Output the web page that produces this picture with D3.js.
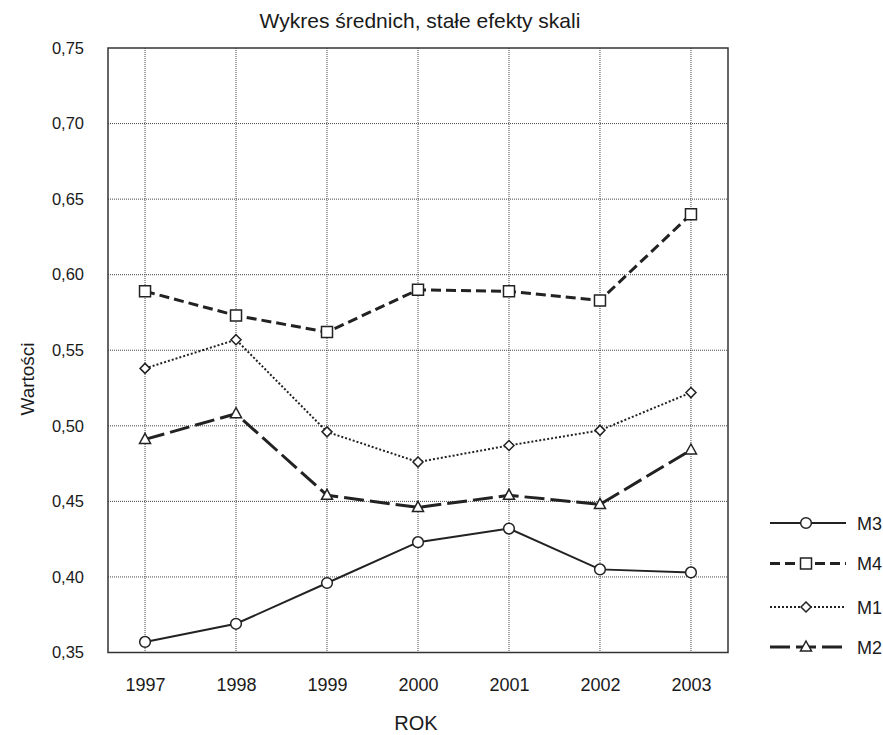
<!DOCTYPE html>
<html><head><meta charset="utf-8">
<script src="https://cdn.jsdelivr.net/npm/d3@7"></script>
<style>body{margin:0;background:#fff}text{font-family:"Liberation Sans",Arial,sans-serif;fill:#1a1a1a}</style>
</head><body>
<script>
const years = ["1997","1998","1999","2000","2001","2002","2003"];
const M3 = [0.357, 0.369, 0.396, 0.423, 0.432, 0.405, 0.403];
const M4 = [0.589, 0.573, 0.562, 0.590, 0.589, 0.583, 0.640];
const M1 = [0.538, 0.557, 0.496, 0.476, 0.487, 0.497, 0.522];
const M2 = [0.491, 0.508, 0.454, 0.446, 0.454, 0.448, 0.484];
const yTicks = [0.35,0.40,0.45,0.50,0.55,0.60,0.65,0.70,0.75];
const seriesNames = ["M3","M4","M1","M2"];

const W=883,H=735;
const svg=d3.select("body").append("svg").attr("width",W).attr("height",H);
const L=108,R=728,T=48,B=652.5;
const x=d3.scalePoint().domain(years).range([L,R]).padding(0.407);
const y=d3.scaleLinear().domain([0.35,0.75]).range([B,T]);

// grid
const grid=svg.append("g").attr("stroke","#444").attr("stroke-width",1).attr("stroke-dasharray","1,1");
grid.selectAll(".gx").data(years).join("line").attr("x1",d=>x(d)).attr("x2",d=>x(d)).attr("y1",T).attr("y2",B);
grid.selectAll(".gy").data(yTicks.slice(1,-1)).join("line").attr("x1",L).attr("x2",R).attr("y1",d=>y(d)).attr("y2",d=>y(d));

// frame
svg.append("rect").attr("x",L).attr("y",T).attr("width",R-L).attr("height",B-T).attr("fill","none").attr("stroke","#333").attr("stroke-width",1.5);

// axes labels
const yAxis=d3.axisLeft(y).tickValues(yTicks).tickSize(0).tickPadding(24).tickFormat(d=>d3.format(".2f")(d).replace(".",","));
const ga=svg.append("g").attr("transform",`translate(${L},0)`).call(yAxis);
ga.select(".domain").remove();
ga.selectAll("text").style("font-size","16.5px").attr("fill","#1a1a1a");
const xAxis=d3.axisBottom(x).tickSize(0).tickPadding(26);
const gx=svg.append("g").attr("transform",`translate(0,${B})`).call(xAxis);
gx.select(".domain").remove();
gx.selectAll("text").style("font-size","18px").attr("fill","#1a1a1a");

svg.append("text").attr("x",420).attr("y",28).attr("text-anchor","middle").style("font-size","21px").text("Wykres średnich, stałe efekty skali");
svg.append("text").attr("x",416).attr("y",730).attr("text-anchor","middle").style("font-size","20px").text("ROK");
svg.append("text").attr("transform","translate(34,379) rotate(-90)").attr("text-anchor","middle").style("font-size","19px").text("Wartości");

const styles={
  M3:{data:M3,dash:null,w:2,marker:"circle"},
  M4:{data:M4,dash:"10,5",w:3,marker:"square"},
  M1:{data:M1,dash:"2,2",w:2,marker:"diamond"},
  M2:{data:M2,dash:"20,6",w:3,marker:"triangle"}
};
const markerPath={
  circle:d3.symbol().type(d3.symbolCircle).size(90)(),
  square:"M-5.5,-5.5H5.5V5.5H-5.5Z",
  diamond:"M0,-5L5,0L0,5L-5,0Z",
  triangle:"M0,-6L5.5,4H-5.5Z"
};
const line=d3.line().x((d,i)=>x(years[i])).y(d=>y(d));
function drawMarker(g,type,cx,cy){
  g.append("path").attr("d",markerPath[type])
   .attr("transform",`translate(${cx},${cy})`).attr("fill","#fff").attr("stroke","#222").attr("stroke-width",1.5);
}
["M2","M1","M4","M3"].forEach(n=>{
  const s=styles[n];
  svg.append("path").datum(s.data).attr("d",line).attr("fill","none").attr("stroke","#222")
    .attr("stroke-width",s.w).attr("stroke-dasharray",s.dash);
  const g=svg.append("g");
  s.data.forEach((v,i)=>drawMarker(g,s.marker,x(years[i]),y(v)));
});

// legend
const legY=[523,563.5,607,647];
seriesNames.forEach((n,i)=>{
  const s=styles[n];
  const ly=legY[i];
  svg.append("line").attr("x1",770).attr("x2",846).attr("y1",ly).attr("y2",ly).attr("stroke","#222")
    .attr("stroke-width",s.w).attr("stroke-dasharray",s.dash);
  drawMarker(svg,s.marker,806,ly);
  svg.append("text").attr("x",857).attr("y",ly+6.5).style("font-size","18px").text(n);
});
</script>
</body></html>
